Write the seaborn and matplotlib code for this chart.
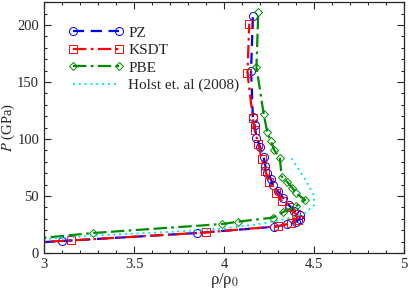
import matplotlib
matplotlib.use("Agg")
import matplotlib.pyplot as plt
import pandas as pd
import seaborn as sns
from matplotlib.ticker import MultipleLocator

# density ratio rho/rho0 and pressure (GPa) for each functional
PZ_RHO = [2.90, 3.10, 3.85, 4.28, 4.35, 4.40, 4.42, 4.42, 4.39, 4.36, 4.33,
          4.30, 4.27, 4.26, 4.24, 4.23, 4.22, 4.20, 4.18, 4.17, 4.16, 4.15, 4.16]
PZ_P = [8.6, 10.5, 17.5, 23.0, 25.0, 27.5, 30.0, 33.0, 37.0, 42.0, 48.0,
        54.0, 60.0, 65.0, 70.0, 76.0, 84.0, 93.0, 101.0, 112.0, 119.0, 160.0, 208.0]

KSDT_RHO = [2.90, 3.15, 3.90, 4.30, 4.37, 4.41, 4.40, 4.36, 4.32, 4.29, 4.25,
            4.23, 4.21, 4.19, 4.17, 4.16, 4.13, 4.14]
KSDT_P = [8.8, 11.0, 18.0, 23.5, 26.0, 29.0, 34.0, 40.0, 46.0, 53.0, 62.0,
          72.0, 82.0, 96.0, 108.0, 118.0, 158.0, 201.0]

PBE_RHO = [2.90, 3.27, 3.99, 4.08, 4.27, 4.33, 4.40, 4.45, 4.40, 4.38, 4.35,
           4.32, 4.31, 4.28, 4.26, 4.24, 4.22, 4.18, 4.19]
PBE_P = [11.8, 17.5, 25.4, 27.5, 31.0, 36.0, 41.0, 46.5, 52.5, 57.0, 62.5,
         67.0, 83.0, 90.0, 98.0, 106.0, 122.0, 163.0, 211.0]

HOLST_RHO = [2.90, 3.30, 3.70, 4.00, 4.20, 4.35, 4.45, 4.50, 4.50, 4.46, 4.42, 4.37]
HOLST_P = [11.0, 15.5, 18.5, 21.5, 25.5, 30.0, 35.0, 42.0, 50.0, 62.0, 72.0, 84.0]

SERIES = [
    ("PZ", PZ_RHO, PZ_P, "#0000ff", (5, 3), "o", 5.8),
    ("KSDT", KSDT_RHO, KSDT_P, "#ff0000", (6, 2, 1.2, 2), "s", 5.2),
    ("PBE", PBE_RHO, PBE_P, "#008b00", (6, 2, 1.2, 2, 6, 2), "D", 4.4),
    ("Holst et. al (2008)", HOLST_RHO, HOLST_P, "#00e5ee", (1, 2), None, 0),
]


def main() -> None:
    sns.set_style("ticks")
    plt.rcParams["font.family"] = ["Liberation Serif", "DejaVu Serif"]
    plt.rcParams["mathtext.fontset"] = "stix"
    plt.rcParams["font.size"] = 10.5

    fig = plt.figure(figsize=(4.09, 2.89), dpi=100)
    ax = fig.add_axes([0.1076, 0.1246, 0.8804, 0.868])

    for name, rho, p, color, dashes, marker, msize in SERIES:
        df = pd.DataFrame({"rho": rho, "P": p})
        kw = dict(
            data=df, x="rho", y="P", ax=ax, sort=False, estimator=None,
            color=color, label=name, linewidth=1.6 if marker else 1.4,
        )
        if marker:
            kw.update(marker=marker, markersize=msize,
                      markerfacecolor="none", markeredgecolor=color,
                      markeredgewidth=0.7)
        sns.lineplot(**kw)
        line = ax.get_lines()[-1]
        line.set_dashes(dashes)

    ax.set_xlim(3, 5)
    ax.set_ylim(0, 220)
    ax.xaxis.set_major_locator(MultipleLocator(0.5))
    ax.xaxis.set_minor_locator(MultipleLocator(0.1))
    ax.yaxis.set_major_locator(MultipleLocator(50))
    ax.yaxis.set_minor_locator(MultipleLocator(10))
    ax.xaxis.set_major_formatter(plt.FuncFormatter(lambda v, _: f"{v:g}"))
    ax.tick_params(which="both", direction="in", top=True, right=True, labelsize=10.5)
    ax.tick_params(which="major", length=5, width=0.8)
    ax.tick_params(which="minor", length=2.5, width=0.8)
    for spine in ax.spines.values():
        spine.set_linewidth(0.9)

    ax.set_xlabel(r"ρ/ρ$_0$", labelpad=0, fontsize=12)
    ax.set_ylabel(r"$P$ (GPa)", labelpad=0, fontsize=10.5)

    ax.legend(loc="upper left", frameon=False, numpoints=2, handlelength=3.6,
              handletextpad=0.35, labelspacing=0.25, fontsize=11,
              bbox_to_anchor=(0.05, 0.93), borderaxespad=0.0)

    fig.savefig("out.png", dpi=100)


if __name__ == "__main__":
    main()
